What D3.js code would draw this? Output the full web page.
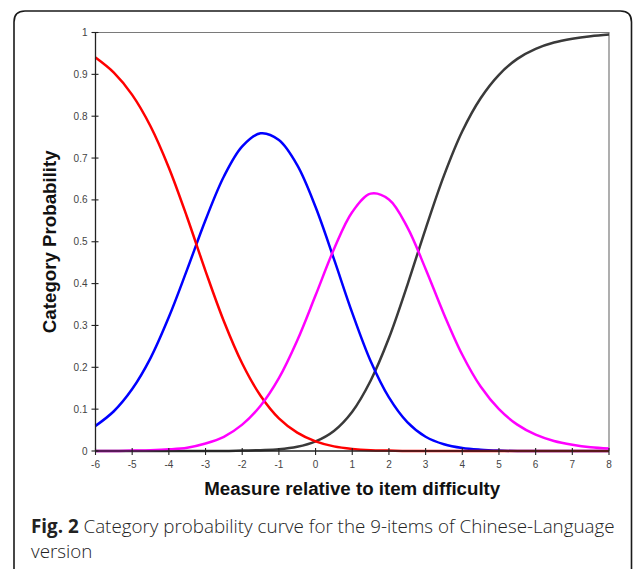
<!DOCTYPE html>
<html>
<head>
<meta charset="utf-8">
<script src="https://cdn.jsdelivr.net/npm/d3@7"></script>
<style>
  body { margin: 0; background: #fff; }
  svg { display: block; }
</style>
</head>
<body>
<svg id="chart" width="633" height="569"></svg>
<script>
// measure values (logits) where the curves were read
const measures = [-6, -5.5, -5, -4.5, -4, -3.5, -3, -2.5, -2, -1.5, -1, -0.5, 0, 0.5, 1,
  1.5, 2, 2.5, 3, 3.5, 4, 4.5, 5, 5.5, 6, 6.5, 7, 7.5, 8]

// category probabilities
const cat1 = [0.940, 0.904, 0.851, 0.776, 0.677, 0.558, 0.430, 0.310, 0.209, 0.132, 0.078,
  0.044, 0.023, 0.011, 0.005, 0.002, 0.001, 0, 0, 0, 0, 0, 0, 0, 0, 0, 0, 0, 0]
const cat2 = [0.060, 0.095, 0.148, 0.222, 0.320, 0.434, 0.552, 0.656, 0.728, 0.759, 0.743,
  0.683, 0.583, 0.459, 0.330, 0.215, 0.128, 0.069, 0.034, 0.016, 0.007, 0.003, 0.001,
  0, 0, 0, 0, 0, 0]
const cat3 = [0, 0, 0.001, 0.002, 0.004, 0.008, 0.018, 0.034, 0.063, 0.108, 0.174, 0.264,
  0.372, 0.482, 0.571, 0.615, 0.601, 0.535, 0.435, 0.327, 0.230, 0.154, 0.100, 0.063,
  0.039, 0.024, 0.015, 0.009, 0.006]
const cat4 = [0, 0, 0, 0, 0, 0, 0, 0, 0.001, 0.002, 0.004, 0.010, 0.023, 0.048, 0.094,
  0.168, 0.270, 0.396, 0.531, 0.658, 0.764, 0.843, 0.899, 0.937, 0.961, 0.976, 0.985,
  0.991, 0.995]

const xTicks = d3.range(-6, 9, 1)
const yTicks = [0, 0.1, 0.2, 0.3, 0.4, 0.5, 0.6, 0.7, 0.8, 0.9, 1]

const series = [
  { name: 'cat4', values: cat4, color: '#3a3a3a' },
  { name: 'cat2', values: cat2, color: '#0000ff' },
  { name: 'cat1', values: cat1, color: '#ff0000' },
  { name: 'cat3', values: cat3, color: '#ff00ff' },
]

const svg = d3.select('#chart')
const plot = { left: 95.5, right: 609, top: 32.5, bottom: 451 }

const x = d3.scaleLinear().domain([-6, 8]).range([plot.left, plot.right])
const y = d3.scaleLinear().domain([0, 1]).range([plot.bottom, plot.top])

// rounded panel border, open at the bottom of the picture
const bx0 = 14, bx1 = 631.5, by0 = 11, r = 11
svg.append('path')
  .attr('d', `M${bx0},575 L${bx0},${by0 + r} Q${bx0},${by0} ${bx0 + r},${by0} ` +
    `L${bx1 - r},${by0} Q${bx1},${by0} ${bx1},${by0 + r} L${bx1},575`)
  .attr('fill', 'none')
  .attr('stroke', '#1a1a1a')
  .attr('stroke-width', 1.6)

// frame top + right
svg.append('path')
  .attr('d', `M${plot.left},${plot.top} L${plot.right},${plot.top} L${plot.right},${plot.bottom}`)
  .attr('fill', 'none')
  .attr('stroke', '#7a7a7a')
  .attr('stroke-width', 1.2)

const line = d3.line()
  .x((d, i) => x(measures[i]))
  .y((d) => y(d))
  .curve(d3.curveCatmullRom.alpha(0.5))

svg.append('g')
  .selectAll('path')
  .data(series)
  .join('path')
  .attr('d', (s) => line(s.values))
  .attr('fill', 'none')
  .attr('stroke', (s) => s.color)
  .attr('stroke-width', 2.5)
  .attr('stroke-linejoin', 'round')

// axes
const yAxis = svg.append('g').attr('transform', `translate(${plot.left},0)`)
yAxis.append('line')
  .attr('y1', plot.top).attr('y2', plot.bottom)
  .attr('stroke', '#222').attr('stroke-width', 1.3)
yAxis.selectAll('line.tick')
  .data(yTicks)
  .join('line')
  .attr('class', 'tick')
  .attr('x1', -4).attr('x2', 3)
  .attr('y1', (d) => y(d)).attr('y2', (d) => y(d))
  .attr('stroke', '#222').attr('stroke-width', 1.1)
yAxis.selectAll('text')
  .data(yTicks)
  .join('text')
  .attr('x', -8)
  .attr('y', (d) => y(d))
  .attr('dy', '0.35em')
  .attr('text-anchor', 'end')
  .attr('font-family', 'Liberation Sans, Arial, sans-serif')
  .attr('font-size', 10)
  .attr('fill', '#444')
  .text((d) => d)

const xAxis = svg.append('g').attr('transform', `translate(0,${plot.bottom})`)
xAxis.append('line')
  .attr('x1', plot.left).attr('x2', plot.right)
  .attr('stroke', '#222').attr('stroke-width', 1.5)
xAxis.selectAll('line.tick')
  .data(xTicks)
  .join('line')
  .attr('class', 'tick')
  .attr('x1', (d) => x(d)).attr('x2', (d) => x(d))
  .attr('y1', -3).attr('y2', 4)
  .attr('stroke', '#222').attr('stroke-width', 1.1)
xAxis.selectAll('text')
  .data(xTicks)
  .join('text')
  .attr('x', (d) => x(d))
  .attr('y', 16.5)
  .attr('text-anchor', 'middle')
  .attr('font-family', 'Liberation Sans, Arial, sans-serif')
  .attr('font-size', 10)
  .attr('fill', '#444')
  .text((d) => d)

// axis titles
svg.append('text')
  .attr('x', (plot.left + plot.right) / 2)
  .attr('y', 495)
  .attr('text-anchor', 'middle')
  .attr('font-family', 'Liberation Sans, Arial, sans-serif')
  .attr('font-weight', 'bold')
  .attr('font-size', 18.7)
  .attr('fill', '#111')
  .text('Measure relative to item difficulty')

svg.append('text')
  .attr('transform', `translate(56,${(plot.top + plot.bottom) / 2}) rotate(-90)`)
  .attr('text-anchor', 'middle')
  .attr('font-family', 'Liberation Sans, Arial, sans-serif')
  .attr('font-weight', 'bold')
  .attr('font-size', 18.7)
  .attr('fill', '#111')
  .text('Category Probability')

// caption
const cap = svg.append('text')
  .attr('x', 31)
  .attr('y', 533)
  .attr('font-family', 'Open Sans, Noto Sans, sans-serif')
  .attr('font-size', 18.8)
  .attr('fill', '#222')
cap.append('tspan').attr('font-weight', 'bold').text('Fig. 2')
cap.append('tspan').attr('font-weight', 300).text(' Category probability curve for the 9-items of Chinese-Language')

svg.append('text')
  .attr('x', 31)
  .attr('y', 558)
  .attr('font-family', 'Open Sans, Noto Sans, sans-serif')
  .attr('font-size', 18.8)
  .attr('font-weight', 300)
  .attr('fill', '#222')
  .text('version')
</script>
</body>
</html>
